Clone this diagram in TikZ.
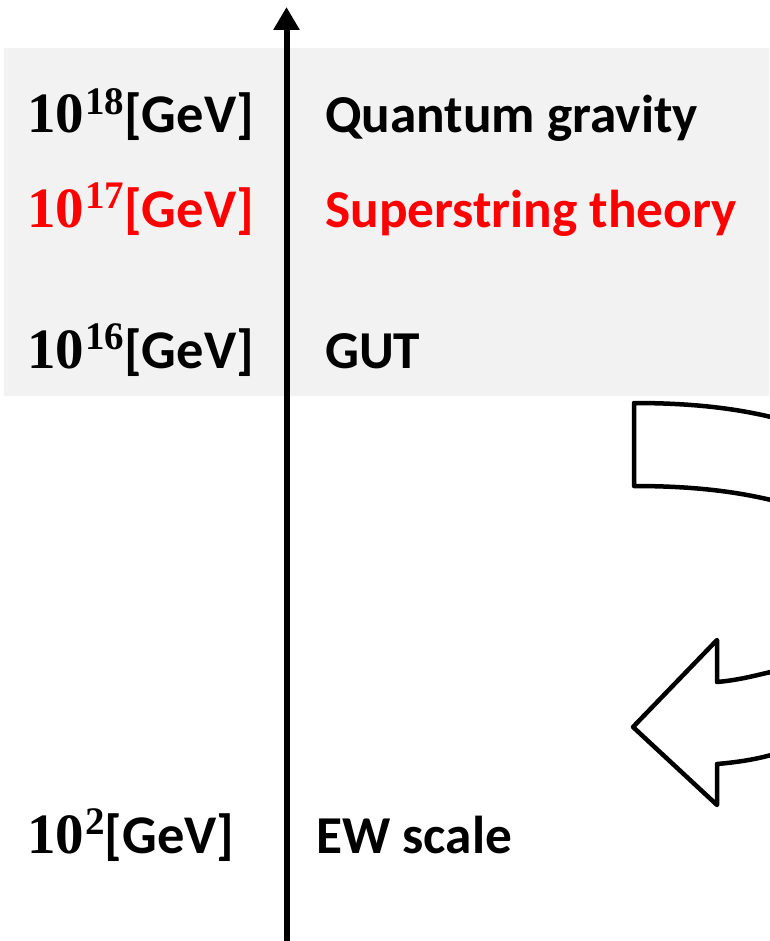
\documentclass[tikz,border=0pt]{standalone}
\usepackage{fontspec}
\newfontfamily\calib{Carlito}
\newfontfamily\numfont{Liberation Serif}
\usetikzlibrary{arrows.meta}
\definecolor{bandgray}{HTML}{F2F2F2}
\definecolor{hotred}{HTML}{FF0000}
\newcommand{\tenpow}[1]{{\numfont\bfseries\fontsize{57}{60}\selectfont 10\kern1pt\raisebox{0.33em}{\fontsize{39}{40}\selectfont #1}}}
\newcommand{\gevunit}{{\calib\bfseries\fontsize{54.5}{60}\selectfont [GeV]}}
\tikzset{
  lbl/.style={anchor=base west, inner sep=0pt, font=\fontsize{53.3}{60}\selectfont\calib\bfseries},
  outlineshape/.style={draw=black, line width=4.5pt, line join=round, fill=white},
}
\begin{document}
\begin{tikzpicture}[x=1pt, y=-1pt]
\useasboundingbox (0,0) rectangle (769,941);
\fill[bandgray] (4,48) rectangle (769,396);
% axis
\coordinate (axbot) at (286.5,945);
\coordinate (axtop) at (286.5,7);
\draw[line width=6pt, -{Triangle[length=23pt,width=25pt]}] (axbot) -- (axtop);
% labels
\node[lbl] (e18) at (27,133) {\tenpow{18}\gevunit};
\node[lbl, text=hotred] (e17) at (27,227) {\tenpow{17}\gevunit};
\node[lbl] (e16) at (27,368) {\tenpow{16}\gevunit};
\node[lbl] (e2) at (27,853) {\tenpow{2}\gevunit};
\node[lbl] (qg) at (325,133) {Quantum gravity};
\node[lbl, text=hotred] (ss) at (325,227) {Superstring theory};
\node[lbl] (gut) at (325,368) {GUT};
\node[lbl] (ew) at (316,853) {EW scale};
% U-turn arrow (cut off at right edge)
\draw[outlineshape] (775,418) .. controls (735,408) and (690,403) .. (634,403)
  -- (634,486) .. controls (690,486) and (735,491) .. (775,501);
\draw[outlineshape] (775,671) .. controls (757,675) and (740,680) .. (717,682)
  -- (717,640) -- (633,727) -- (717,805) -- (717,764)
  .. controls (740,762) and (757,759) .. (775,754);
\end{tikzpicture}
\end{document}
